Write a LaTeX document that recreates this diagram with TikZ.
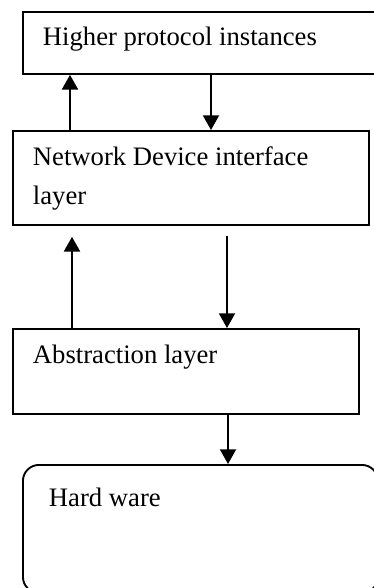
\documentclass[tikz,border=0pt]{standalone}
\usepackage{fontspec}
\setmainfont{Liberation Serif}
\usetikzlibrary{arrows.meta}
\begin{document}
\begin{tikzpicture}[x=0.75pt,y=-0.75pt,line width=1.4pt,
  layerbox/.style={draw, rectangle, inner sep=0pt, anchor=north west},
  boxtext/.style={inner sep=0pt, anchor=base west, font=\fontsize{20}{28.5}\selectfont, align=left},
  flow/.style={-{Triangle[width=12pt,length=11pt]}}]
\clip (0,0) rectangle (374,588);
\node[layerbox, minimum width=267pt, minimum height=46.5pt] (hpi) at (22,11){};
\node[layerbox, minimum width=267pt, minimum height=70.5pt] (ndi) at (12,130){};
\node[layerbox, minimum width=259.5pt, minimum height=63.75pt] (abs) at (12,328){};
\node[layerbox, rounded corners=12pt, minimum width=266.25pt, minimum height=96pt] (hw) at (22,464){};
\node[boxtext] (hpitxt) at (42,46){Higher protocol instances};
% base of a two-line node is the last line
\node[boxtext] (nditxt) at (32,204){Network Device interface\\layer};
\node[boxtext] (abstxt) at (32,363){Abstraction layer};
\node[boxtext] (hwtxt) at (48,506){Hard ware};
\coordinate (u1) at (70,0);
\coordinate (d1) at (211,0);
\coordinate (u2) at (72,0);
\coordinate (d2) at (227,0);
\coordinate (d3) at (228,0);
\draw[flow](u1 |- ndi.north) -- (u1 |- hpi.south);
\draw[flow](d1 |- hpi.south) -- (d1 |- ndi.north);
\draw[flow, shorten >=8.25pt](u2 |- abs.north) -- (u2 |- ndi.south);
\draw[flow, shorten <=7.5pt](d2 |- ndi.south) -- (d2 |- abs.north);
\draw[flow](d3 |- abs.south) -- (d3 |- hw.north);
\end{tikzpicture}
\end{document}
